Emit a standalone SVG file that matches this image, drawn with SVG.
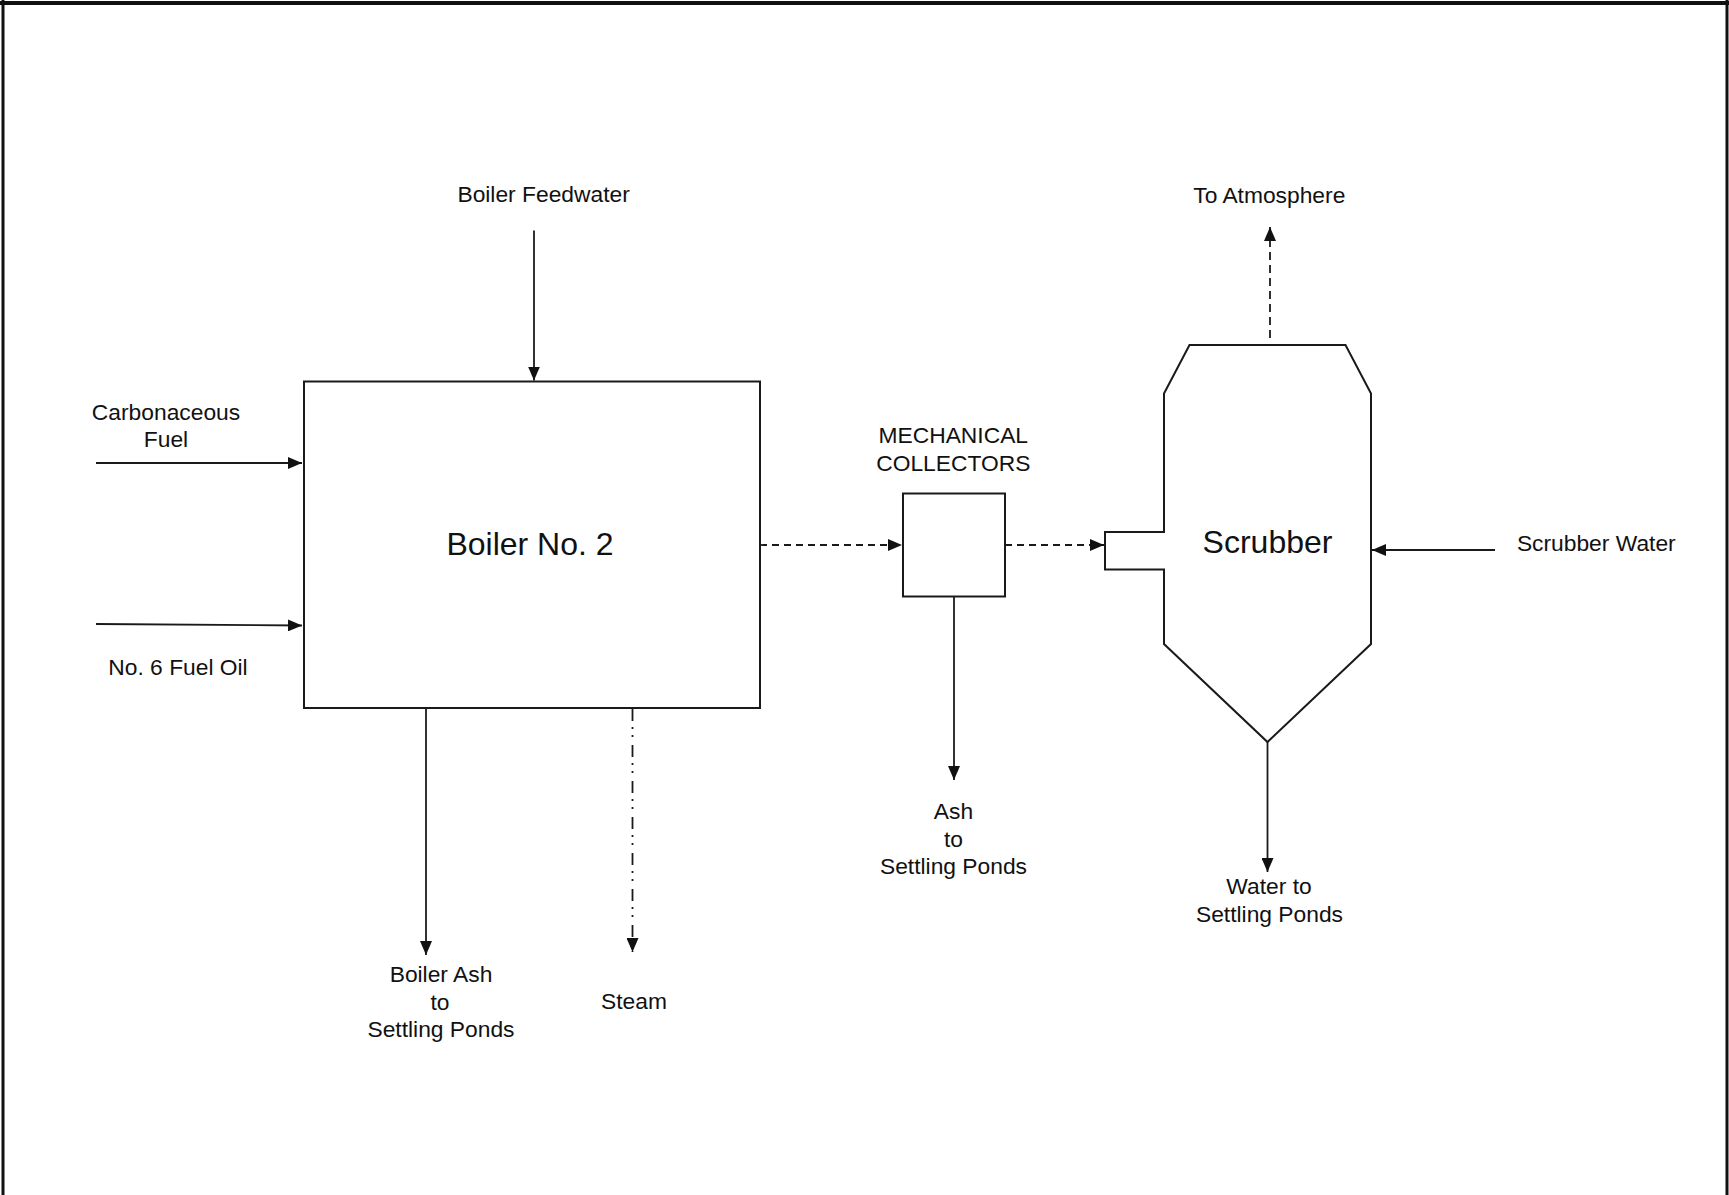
<svg xmlns="http://www.w3.org/2000/svg" width="1729" height="1195" viewBox="0 0 1729 1195">
  <style>
    .shape { fill: none; stroke: #1a1a1a; stroke-width: 2; stroke-linejoin: miter; }
    .flow { fill: none; stroke: #1a1a1a; stroke-width: 1.8; }
    .dash { stroke-dasharray: 7 5; }
    .vdash { stroke-dasharray: 8 5; }
    .dashdot { stroke-dasharray: 12 6 2 6 2 8; }
    .lbl { font-family: "Liberation Sans", Arial, sans-serif; font-size: 22.8px; fill: #111; text-anchor: middle; }
    .big { font-size: 32px; }
    .frame { stroke: #111; fill: none; }
  </style>
  <defs>
    <marker id="ah" viewBox="0 0 14 12" refX="14" refY="6" markerWidth="14" markerHeight="12" markerUnits="userSpaceOnUse" orient="auto">
      <path d="M0,0 L14,6 L0,12 Z" fill="#111"/>
    </marker>
  </defs>
  <rect width="1729" height="1195" fill="#ffffff"/>
  <g id="frame">
    <line class="frame" x1="0" y1="3" x2="1729" y2="3" stroke-width="4"/>
    <line class="frame" x1="3" y1="0" x2="3" y2="1195" stroke-width="3"/>
    <line class="frame" x1="1727" y1="0" x2="1727" y2="1195" stroke-width="3"/>
  </g>
  <g id="boiler">
    <rect class="shape" x="304" y="381.5" width="456" height="326.5"/>
    <text class="lbl big" x="530" y="555">Boiler No. 2</text>
  </g>
  <g id="collectors">
    <rect class="shape" x="903" y="493.5" width="102" height="103"/>
    <text class="lbl" x="953.3" y="443.3">MECHANICAL</text>
    <text class="lbl" x="953.3" y="470.7">COLLECTORS</text>
  </g>
  <g id="scrubber">
    <path class="shape" d="M1105,532 L1164,532 L1164,393.5 L1189.5,345 L1345.5,345 L1371,393.5 L1371,644 L1267.5,742 L1164,644 L1164,569.5 L1105,569.5 Z"/>
    <text class="lbl big" x="1267.5" y="553.3">Scrubber</text>
  </g>
  <g id="labels">
    <text class="lbl" x="543.6" y="202">Boiler Feedwater</text>
    <text class="lbl" x="166" y="419.5">Carbonaceous</text>
    <text class="lbl" x="166" y="446.5">Fuel</text>
    <text class="lbl" x="178" y="675">No. 6 Fuel Oil</text>
    <text class="lbl" x="1269.3" y="203.3">To Atmosphere</text>
    <text class="lbl" x="1596.3" y="551">Scrubber Water</text>
    <text class="lbl" x="953.5" y="818.5">Ash</text>
    <text class="lbl" x="953.5" y="846.5">to</text>
    <text class="lbl" x="953.5" y="873.5">Settling Ponds</text>
    <text class="lbl" x="1269" y="894.3">Water to</text>
    <text class="lbl" x="1269.5" y="922.3">Settling Ponds</text>
    <text class="lbl" x="441" y="981.7">Boiler Ash</text>
    <text class="lbl" x="440" y="1010">to</text>
    <text class="lbl" x="441" y="1036.7">Settling Ponds</text>
    <text class="lbl" x="634" y="1009">Steam</text>
  </g>
  <g id="connectors">
    <path class="flow" d="M534,230.5 L534,380.5" marker-end="url(#ah)"/>
    <path class="flow" d="M96,463 L302,463" marker-end="url(#ah)"/>
    <path class="flow" d="M96,624 L302,625.5" marker-end="url(#ah)"/>
    <path class="flow dash" d="M760,545 L902,545" marker-end="url(#ah)"/>
    <path class="flow dash" d="M1005,545 L1104,545" marker-end="url(#ah)"/>
    <path class="flow vdash" d="M1270,338 L1270,227" marker-end="url(#ah)"/>
    <path class="flow" d="M1495,550 L1372,550" marker-end="url(#ah)"/>
    <path class="flow" d="M1267.5,742 L1267.5,872" marker-end="url(#ah)"/>
    <path class="flow" d="M954,597 L954,780" marker-end="url(#ah)"/>
    <path class="flow" d="M426,708 L426,955" marker-end="url(#ah)"/>
    <path class="flow dashdot" d="M632.5,709 L632.5,952" marker-end="url(#ah)"/>
  </g>
</svg>
